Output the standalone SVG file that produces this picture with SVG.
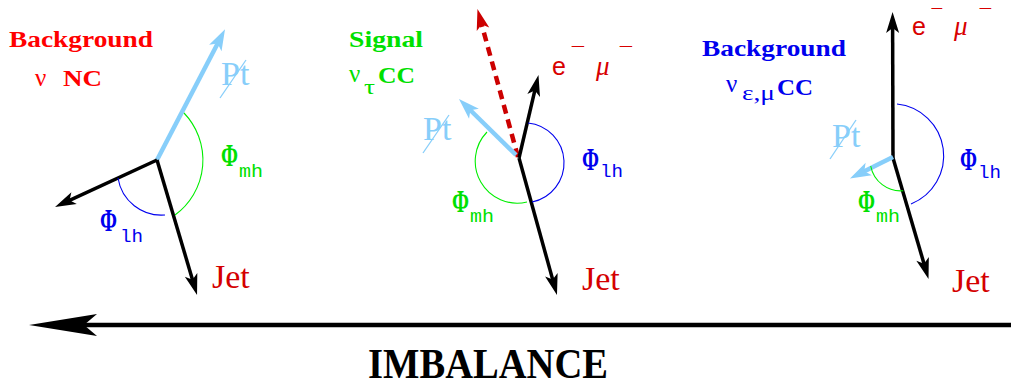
<svg xmlns="http://www.w3.org/2000/svg" width="1011" height="385" viewBox="0 0 1011 385">
<style>
.blk{stroke:#000;stroke-width:3.5;fill:none;marker-end:url(#hb)}
.pt{stroke:#87cefa;stroke-width:4.5;fill:none;marker-end:url(#hp)}
.red{stroke:#cc0000;stroke-width:4.5;fill:none;stroke-dasharray:9 6;marker-end:url(#hr)}
.arcg{stroke:#00ee00;stroke-width:1.1;fill:none}
.arcb{stroke:#0000ee;stroke-width:1.1;fill:none}
.slash{stroke:#87cefa;stroke-width:1.3}
.hd{font-family:"Liberation Serif",serif;font-weight:bold;font-size:23px}
.nu{font-family:"Liberation Serif",serif;font-size:25px}
.sub{font-family:"Liberation Serif",serif;font-size:21px}
.phi{font-family:"Liberation Serif",serif;font-weight:bold;font-size:32px}
.mono{font-family:"Liberation Mono",monospace;font-size:19px}
.jet{font-family:"Liberation Serif",serif;font-size:34px;fill:#d40000}
.ptt{font-family:"Liberation Serif",serif;font-size:34px;fill:#87cefa}
.e{font-family:"Liberation Sans",sans-serif;font-size:25px;fill:#d80000}
.mu{font-family:"Liberation Serif",serif;font-style:italic;font-size:27px;fill:#d80000}
.mn{font-family:"Liberation Sans",sans-serif;font-size:14px;fill:#d80000}
.g{fill:#00e000}.b{fill:#0000ee}.r{fill:#ff0000}
</style>
<defs>
<marker id="hb" viewBox="-22 -8 24 16" markerWidth="24" markerHeight="16" refX="-10" refY="0" orient="auto" markerUnits="userSpaceOnUse"><path d="M0,0 L-21,-6.5 L-16,0 L-21,6.5 Z" fill="#000"/></marker>
<marker id="hp" viewBox="-22 -8 24 16" markerWidth="24" markerHeight="16" refX="-10" refY="0" orient="auto" markerUnits="userSpaceOnUse"><path d="M0,0 L-21,-7 L-16,0 L-21,7 Z" fill="#87cefa"/></marker>
<marker id="hr" viewBox="-22 -8 24 16" markerWidth="24" markerHeight="16" refX="-10" refY="0" orient="auto" markerUnits="userSpaceOnUse"><path d="M0,0 L-21,-6.5 L-16,0 L-21,6.5 Z" fill="#cc0000"/></marker>
<marker id="hbig" viewBox="-70 -12 72 24" markerWidth="72" markerHeight="24" refX="-50" refY="0" orient="auto" markerUnits="userSpaceOnUse"><path d="M0,0 L-68,-11 L-55,0 L-68,11 Z" fill="#000"/></marker>
</defs>

<g id="connectors">
  <line class="pt" x1="157" y1="160" x2="220.4" y2="38.2"/>
  <line class="blk" x1="157" y1="160" x2="64.1" y2="202.8"/>
  <line class="blk" x1="157" y1="160" x2="194.2" y2="285.4"/>
  <path class="arcg" d="M184,113 A68,68 0 0 1 175,215"/>
  <path class="arcb" d="M118,178 A44,44 0 0 0 165,215"/>
  <line class="red" x1="518" y1="157" x2="480.1" y2="18.7"/>
  <line class="pt" x1="516" y1="155" x2="466.1" y2="106"/>
  <line class="blk" x1="519" y1="158" x2="536.2" y2="84.7"/>
  <line class="blk" x1="519" y1="158" x2="554.3" y2="285.4"/>
  <path class="arcb" d="M528,123 A40,40 0 0 1 532,202"/>
  <path class="arcg" d="M487,132 A42,42 0 0 0 527,202"/>
  <line class="blk" x1="893" y1="158" x2="892.6" y2="22"/>
  <line class="blk" x1="893" y1="158" x2="925.7" y2="269.4"/>
  <line class="pt" x1="893" y1="157" x2="858.9" y2="174"/>
  <path class="arcb" d="M897,104 A52,52 0 0 1 911,204"/>
  <path class="arcg" d="M870.7,166 A30.5,30.5 0 0 0 903.3,190.7"/>
  <line stroke="#000" stroke-width="4.5" x1="1015" y1="325" x2="79" y2="325" marker-end="url(#hbig)"/>
</g>

<g id="panel1">
  <text class="hd r" x="9" y="47" textLength="144" lengthAdjust="spacingAndGlyphs">Background</text>
  <text class="nu r" x="35" y="86">ν</text>
  <text class="hd r" x="63" y="86" textLength="39" lengthAdjust="spacingAndGlyphs">NC</text>
  <text class="ptt" x="221" y="85">Pt</text>
  <line class="slash" x1="220" y1="98" x2="246" y2="60"/>
  <text class="phi g" x="221" y="166" textLength="17" lengthAdjust="spacingAndGlyphs">Φ</text>
  <text class="mono g" x="239" y="177" textLength="24" lengthAdjust="spacingAndGlyphs">mh</text>
  <text class="phi b" x="100" y="231" textLength="17" lengthAdjust="spacingAndGlyphs">Φ</text>
  <text class="mono b" x="120" y="242" textLength="23" lengthAdjust="spacingAndGlyphs">lh</text>
  <text class="jet" x="212" y="288">Jet</text>
</g>

<g id="panel2">
  <text class="hd g" x="349" y="47" textLength="74" lengthAdjust="spacingAndGlyphs">Signal</text>
  <text class="nu g" x="349" y="82">ν</text>
  <text class="sub g" x="364" y="94" textLength="11" lengthAdjust="spacingAndGlyphs">τ</text>
  <text class="hd g" x="378" y="83" textLength="37" lengthAdjust="spacingAndGlyphs">CC</text>
  <text class="e" x="552" y="75">e</text>
  <text class="mn" x="570" y="51" textLength="15" lengthAdjust="spacingAndGlyphs">−</text>
  <text class="mu" x="596" y="75">μ</text>
  <text class="mn" x="618" y="51" textLength="15" lengthAdjust="spacingAndGlyphs">−</text>
  <text class="ptt" x="423" y="140">Pt</text>
  <line class="slash" x1="423" y1="153" x2="449" y2="115"/>
  <text class="phi b" x="582" y="170" textLength="17" lengthAdjust="spacingAndGlyphs">Φ</text>
  <text class="mono b" x="600" y="177" textLength="23" lengthAdjust="spacingAndGlyphs">lh</text>
  <text class="phi g" x="452" y="212" textLength="17" lengthAdjust="spacingAndGlyphs">Φ</text>
  <text class="mono g" x="470" y="222" textLength="24" lengthAdjust="spacingAndGlyphs">mh</text>
  <text class="jet" x="582" y="290">Jet</text>
</g>

<g id="panel3">
  <text class="hd b" x="702" y="56" textLength="144" lengthAdjust="spacingAndGlyphs">Background</text>
  <text class="nu b" x="726" y="92">ν</text>
  <text class="sub b" x="742" y="100" textLength="33" lengthAdjust="spacingAndGlyphs">ε,μ</text>
  <text class="hd b" x="777" y="95" textLength="36" lengthAdjust="spacingAndGlyphs">CC</text>
  <text class="e" x="912" y="35">e</text>
  <text class="mn" x="930" y="12.5" textLength="13" lengthAdjust="spacingAndGlyphs">−</text>
  <text class="mu" x="954" y="35">μ</text>
  <text class="mn" x="978" y="12.5" textLength="14" lengthAdjust="spacingAndGlyphs">−</text>
  <text class="ptt" x="832" y="147">Pt</text>
  <line class="slash" x1="830" y1="159" x2="856" y2="120"/>
  <text class="phi b" x="960" y="170" textLength="17" lengthAdjust="spacingAndGlyphs">Φ</text>
  <text class="mono b" x="978" y="178" textLength="23" lengthAdjust="spacingAndGlyphs">lh</text>
  <text class="phi g" x="858" y="212" textLength="17" lengthAdjust="spacingAndGlyphs">Φ</text>
  <text class="mono g" x="876" y="222" textLength="24" lengthAdjust="spacingAndGlyphs">mh</text>
  <text class="jet" x="952" y="292">Jet</text>
</g>

<g id="imbalance">
  <text x="368" y="378" font-family="Liberation Serif, serif" font-weight="bold" font-size="43" textLength="240" lengthAdjust="spacingAndGlyphs">IMBALANCE</text>
</g>
</svg>
